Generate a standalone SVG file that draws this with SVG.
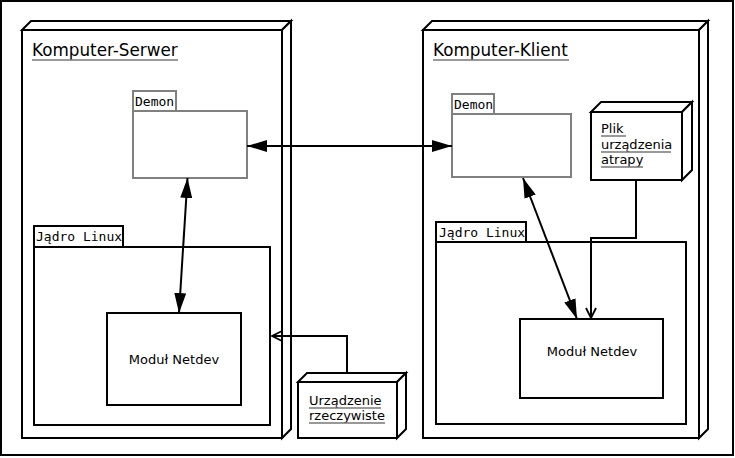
<svg xmlns="http://www.w3.org/2000/svg" width="735" height="458" viewBox="0 0 735 458">
<style>
.frame{fill:#fff;stroke:#000;stroke-width:2}
.cube{fill:#fff;stroke:#000;stroke-width:2;stroke-linejoin:miter}
.comp{fill:#fff;stroke:#808080;stroke-width:2}
.pkg{fill:#fff;stroke:#000;stroke-width:2}
.title{font-family:"DejaVu Sans",sans-serif;font-size:16.8px;fill:#000}
.lbl{font-family:"DejaVu Sans",sans-serif;font-size:13px;fill:#000}
.mono{font-family:"DejaVu Sans Mono",monospace;font-size:13px;fill:#000}
.ul{stroke:#777;stroke-width:1.5}
.conn{fill:none;stroke:#000;stroke-width:2}
</style>
<defs>
<marker id="fh" viewBox="0 0 20 12" refX="20" refY="6" markerWidth="20" markerHeight="12" markerUnits="userSpaceOnUse" orient="auto-start-reverse">
<path d="M0,0 L20,6 L0,12 z" fill="#000"/>
</marker>
<marker id="oh" viewBox="0 0 12 12" refX="11" refY="6" markerWidth="12" markerHeight="12" markerUnits="userSpaceOnUse" orient="auto">
<path d="M1,1 L11,6 L1,11" fill="none" stroke="#000" stroke-width="1.8"/>
</marker>
</defs>
<rect class="frame" x="1" y="1" width="732" height="454"/>

<g id="komputer-serwer">
<rect class="cube" x="22" y="30" width="260" height="408"/>
<polygon class="cube" points="22,30 31,21 291,21 282,30"/>
<polygon class="cube" points="282,30 291,21 291,429 282,438"/>
<text class="title" x="32" y="56">Komputer-Serwer</text>
<line class="ul" x1="32" y1="60" x2="178" y2="60"/>
</g>

<g id="komputer-klient">
<rect class="cube" x="423" y="30" width="276" height="408"/>
<polygon class="cube" points="423,30 432,21 708,21 699,30"/>
<polygon class="cube" points="699,30 708,21 708,429 699,438"/>
<text class="title" x="433" y="56">Komputer-Klient</text>
<line class="ul" x1="433" y1="60" x2="569" y2="60"/>
</g>

<g id="demon-serwer">
<rect class="comp" x="133" y="91" width="43" height="20"/>
<rect class="comp" x="133" y="111" width="114" height="67"/>
<text class="mono" x="135" y="106">Demon</text>
</g>

<g id="demon-klient">
<rect class="comp" x="452" y="94" width="42" height="20"/>
<rect class="comp" x="452" y="114" width="119" height="63"/>
<text class="mono" x="454" y="109">Demon</text>
</g>

<g id="jadro-serwer">
<rect class="pkg" x="34" y="226" width="89" height="21"/>
<rect class="pkg" x="34" y="247" width="236" height="178"/>
<text class="mono" x="36" y="241">Jądro Linux</text>
</g>

<g id="jadro-klient">
<rect class="pkg" x="436" y="222" width="90" height="20"/>
<rect class="pkg" x="436" y="242" width="250" height="182"/>
<text class="mono" x="439" y="237">Jądro Linux</text>
</g>

<g id="modul-serwer">
<rect class="pkg" x="107" y="313" width="134" height="92"/>
<text class="lbl" x="174" y="364" text-anchor="middle">Moduł Netdev</text>
</g>

<g id="modul-klient">
<rect class="pkg" x="520" y="319" width="143" height="79"/>
<text class="lbl" x="592" y="356" text-anchor="middle">Moduł Netdev</text>
</g>

<g id="plik-urzadzenia">
<rect class="cube" x="591" y="112" width="91" height="68"/>
<polygon class="cube" points="591,112 601,102 692,102 682,112"/>
<polygon class="cube" points="682,112 692,102 692,170 682,180"/>
<text class="lbl" x="601" y="133">Plik</text>
<line class="ul" x1="601" y1="136" x2="626" y2="136"/>
<text class="lbl" x="601" y="149">urządzenia</text>
<line class="ul" x1="601" y1="152" x2="671" y2="152"/>
<text class="lbl" x="601" y="164">atrapy</text>
<line class="ul" x1="601" y1="167" x2="643" y2="167"/>
</g>

<g id="urzadzenie-rzeczywiste">
<rect class="cube" x="298" y="382" width="99" height="56"/>
<polygon class="cube" points="298,382 307,373 406,373 397,382"/>
<polygon class="cube" points="397,382 406,373 406,429 397,438"/>
<text class="lbl" x="309" y="405">Urządzenie</text>
<line class="ul" x1="309" y1="408" x2="381" y2="408"/>
<text class="lbl" x="309" y="420">rzeczywiste</text>
<line class="ul" x1="309" y1="423" x2="385" y2="423"/>
</g>

<g id="connectors">
<line class="conn" x1="247" y1="146" x2="452" y2="146" marker-start="url(#fh)" marker-end="url(#fh)"/>
<line class="conn" x1="187.5" y1="178" x2="179" y2="313" marker-start="url(#fh)" marker-end="url(#fh)"/>
<line class="conn" x1="523" y1="178" x2="577" y2="319" marker-start="url(#fh)" marker-end="url(#fh)"/>
<polyline class="conn" points="636,180 636,238 591,238 591,318" marker-end="url(#oh)"/>
<polyline class="conn" points="347,373 347,336 272,336" marker-end="url(#oh)"/>
</g>
</svg>
